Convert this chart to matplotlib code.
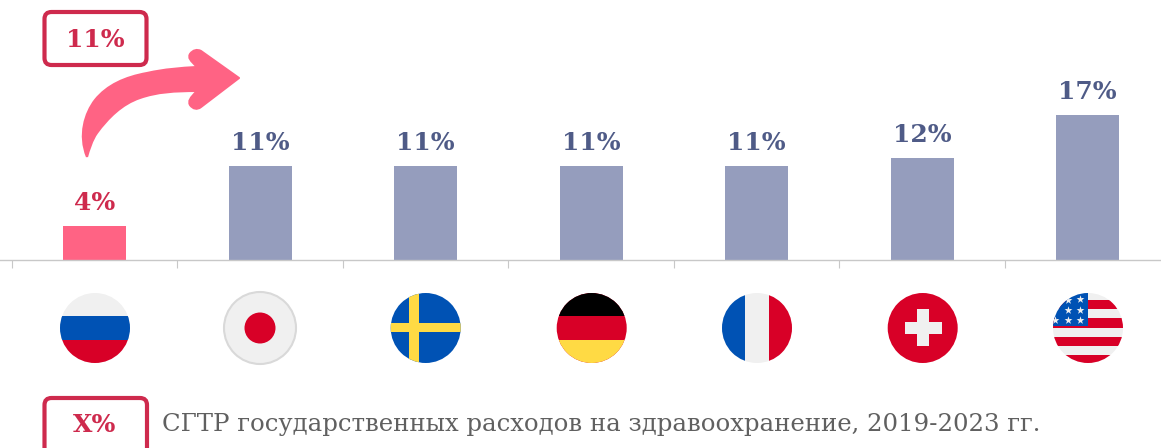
import numpy as np
import matplotlib
matplotlib.use('Agg')
import matplotlib.pyplot as plt
from matplotlib.patches import Circle, Rectangle, FancyBboxPatch, PathPatch
from matplotlib.path import Path

# Data
countries = ['Россия', 'Япония', 'Швеция', 'Германия', 'Франция', 'Швейцария', 'США']
values = [4, 11, 11, 11, 11, 12, 17]
value_labels = ['4%', '11%', '11%', '11%', '11%', '12%', '17%']
callout_label = '11%'
legend_label = 'X%'
legend_text = 'СГТР государственных расходов на здравоохранение, 2019-2023 гг.'

# Colours
PINK = '#FF6384'
BAR = '#959DBD'
DARK = '#4F5B87'
CRIMSON = '#CE2A4D'
GREY = '#606060'
F_BLUE = '#0052B4'
F_RED = '#D80027'
F_WHITE = '#F0F0F0'
F_YELLOW = '#FFDA44'

FONT = 'DejaVu Serif'
W, H = 1161, 448

fig = plt.figure(figsize=(W / 100, H / 100), dpi=100)

# Main axes, scaled so one category is 165.5 px and 1% is 8.5 px
ax = fig.add_axes([0, 0, 1, 1])
ax.set_xlim(-94.7 / 165.5, (W - 94.7) / 165.5)
ax.set_ylim(-(H - 260) / 8.5, 260 / 8.5)
ax.patch.set_alpha(0)
for s in ['top', 'left', 'right']:
    ax.spines[s].set_visible(False)
ax.spines['bottom'].set_position(('data', 0))
ax.spines['bottom'].set_color('#C8C8C8')
ax.spines['bottom'].set_linewidth(1.0)
ax.set_yticks([])
ax.set_xticks(np.arange(len(values)) - 0.5)
ax.set_xticklabels([])
ax.tick_params(axis='x', direction='out', length=5.8, width=0.8, color='#C8C8C8')

colors = [PINK] + [BAR] * 6
ax.bar(range(len(values)), values, width=63 / 165.5, color=colors, zorder=2)
for i, v in enumerate(values):
    ax.annotate(value_labels[i], (i, v), xytext=(0, 8), textcoords='offset points',
                ha='center', va='bottom', fontsize=18, fontweight='bold',
                family=FONT, color=CRIMSON if i == 0 else DARK)

# Overlay in pixel coordinates for the decoration
px = fig.add_axes([0, 0, 1, 1])
px.set_xlim(0, W)
px.set_ylim(H, 0)
px.axis('off')

# Arrow
verts = [
    (87, 157),
    (78, 135), (85, 113), (95, 100),
    (107, 85), (125, 77), (147, 73),
    (165, 69), (180, 68), (197, 67),
    (190, 60), (188, 58), (190, 54),
    (193, 50), (197, 49), (201, 51),
    (239, 78),
    (201, 107),
    (197, 110), (193, 109), (190, 105),
    (188, 101), (190, 98), (197, 91),
    (175, 91), (157, 92), (140, 98),
    (122, 104), (108, 118), (97, 133),
    (92, 140), (89, 150), (87, 157),
]
codes = [Path.MOVETO] + [Path.CURVE4] * 15 + [Path.LINETO] * 2 + [Path.CURVE4] * 15
px.add_patch(PathPatch(Path(verts, codes), facecolor=PINK, edgecolor=PINK,
                       linewidth=1.5, joinstyle='round', zorder=3))


def box(x0, y0, x1, y1):
    px.add_patch(FancyBboxPatch((x0 + 6, y0 + 6), x1 - x0 - 12, y1 - y0 - 12,
                                boxstyle='round,pad=6,rounding_size=7',
                                facecolor='white', edgecolor=CRIMSON, linewidth=3, zorder=4))


box(44.5, 12, 146.5, 65)
px.text(95.5, 40, callout_label, ha='center', va='center', fontsize=18,
        fontweight='bold', family=FONT, color=CRIMSON, zorder=5)
box(44.5, 398, 147, 456)
px.text(94.5, 425.5, legend_label, ha='center', va='center', fontsize=18,
        fontweight='bold', family=FONT, color=CRIMSON, zorder=5)
px.text(161.5, 425, legend_text, ha='left', va='center', fontsize=17.55,
        family=FONT, color=GREY, zorder=5)


# Flags
CY = 328
R = 35


def flag_disc(cx, color=F_WHITE):
    clip = Circle((cx, CY), R, transform=px.transData, facecolor=color, edgecolor='none', zorder=3)
    px.add_patch(clip)
    return clip


def stripe(x, y, w, h, color, clip):
    r = Rectangle((x, y), w, h, facecolor=color, edgecolor='none', zorder=3.5)
    px.add_patch(r)
    r.set_clip_path(clip)


# Russia
c = flag_disc(95)
stripe(60, 316, 70, 24, F_BLUE, c)
stripe(60, 340, 70, 24, F_RED, c)

# Japan
px.add_patch(Circle((260, CY), 36, facecolor=F_WHITE, edgecolor='#D9D9D9', linewidth=1.5, zorder=3))
px.add_patch(Circle((260, CY), 15.5, facecolor=F_RED, edgecolor='none', zorder=3.5))

# Sweden
c = flag_disc(425.7, F_BLUE)
stripe(409, 293, 9.5, 70, F_YELLOW, c)
stripe(390, 323, 71, 9.5, F_YELLOW, c)

# Germany
c = flag_disc(591.7, F_RED)
stripe(556, 293, 71, 23.5, '#000000', c)
stripe(556, 340, 71, 24, F_YELLOW, c)

# France
c = flag_disc(757)
stripe(722, 293, 23, 70, F_BLUE, c)
stripe(769, 293, 23, 70, F_RED, c)

# Switzerland
c = flag_disc(922.7, F_RED)
stripe(904.5, 322, 37, 12, F_WHITE, c)
stripe(916.7, 309.5, 12, 37, F_WHITE, c)

# USA
c = flag_disc(1088)
for y0, y1 in [(300, 309.5), (318, 328), (337, 346), (355, 364)]:
    stripe(1053, y0, 71, y1 - y0, F_RED, c)
stripe(1053, 293, 35, 33.5, F_BLUE, c)
for sx, sy in [(1080, 299.5), (1067.7, 300), (1080, 310), (1067.7, 310),
               (1080, 320), (1067.7, 320), (1055, 320)]:
    star = px.scatter([sx], [sy], marker='*', s=36, color=F_WHITE, linewidths=0, zorder=3.7)
    star.set_clip_path(c)

fig.savefig('out.png', dpi=100)
